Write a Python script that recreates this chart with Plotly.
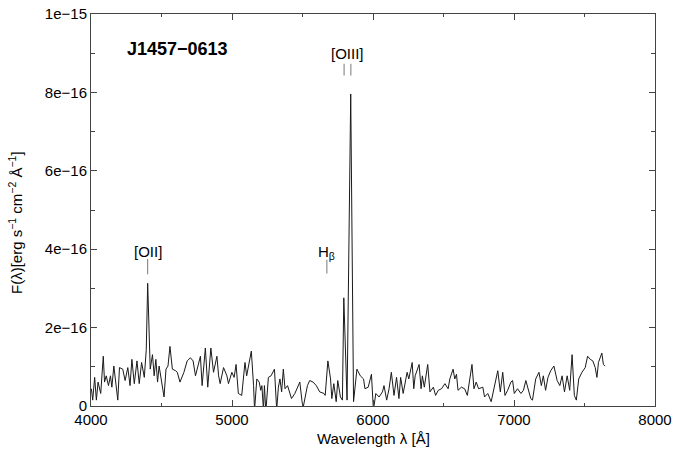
import plotly.graph_objects as go
import numpy as np

# spectrum: wavelength [A] and flux [1e-17 erg/s/cm2/A]
wave = [
    4003, 4012, 4026, 4038, 4050, 4069, 4087, 4096, 4108, 4124, 4138, 4148, 4162, 4171, 4190,
    4202, 4225, 4242, 4261, 4277, 4290, 4307, 4326, 4342, 4359, 4378, 4392, 4402, 4420, 4436,
    4448, 4460, 4472, 4483, 4499, 4518, 4532, 4546, 4560, 4577, 4600, 4612, 4631, 4659, 4682,
    4705, 4724, 4741, 4776, 4788, 4811, 4828, 4850, 4869, 4893, 4905, 4916, 4940, 4964, 4975,
    4999, 5015, 5029, 5045, 5069, 5092, 5104, 5137, 5153, 5160, 5176, 5193, 5204, 5212, 5223,
    5230, 5240, 5258, 5277, 5301, 5317, 5329, 5340, 5352, 5364, 5376, 5394, 5422, 5446, 5481,
    5497, 5504, 5535, 5551, 5575, 5598, 5622, 5652, 5661, 5680, 5699, 5708, 5722, 5739, 5750,
    5769, 5783, 5793, 5816, 5842, 5862, 5886, 5910, 5933, 5943, 5966, 5989, 6003, 6020, 6043,
    6067, 6078, 6097, 6114, 6130, 6149, 6167, 6184, 6196, 6214, 6242, 6254, 6278, 6289, 6299,
    6327, 6341, 6350, 6364, 6388, 6404, 6416, 6428, 6444, 6463, 6486, 6510, 6533, 6545, 6568,
    6580, 6592, 6603, 6627, 6650, 6669, 6685, 6702, 6716, 6732, 6749, 6779, 6791, 6814, 6838,
    6861, 6885, 6903, 6920, 6936, 6955, 6978, 6990, 7002, 7025, 7049, 7067, 7084, 7100, 7119,
    7131, 7154, 7177, 7194, 7208, 7224, 7241, 7260, 7283, 7306, 7325, 7341, 7358, 7377, 7395,
    7412, 7428, 7442, 7459, 7482, 7505, 7522, 7541, 7559, 7576, 7588, 7599, 7623, 7634, 7646,
]
flux = [
    4.4, 1.5, 7.3, 1.5, 6.1, 3.2, 12.7, 6.1, 7.7, 5.2, 7.7, 4.8, 10.2, 7.3, 1.5,
    9.8, 9.4, 6.5, 9.8, 5.2, 11.9, 5.7, 11.5, 5.7, 11.1, 7.3, 14.4, 31.3, 9.4, 13.1,
    7.7, 11.9, 6.1, 10.2, 6.9, 2.3, 9.4, 10.2, 15.2, 9.4, 9.0, 8.6, 6.1, 8.6, 11.5,
    12.3, 11.5, 7.7, 12.7, 5.2, 14.8, 4.8, 14.8, 8.6, 12.7, 7.7, 5.7, 9.8, 7.7, 5.7,
    8.6, 7.3, 10.6, 3.2, 2.7, 11.1, 7.7, 14.0, 5.2, -1.0, 6.9, 6.1, 4.0, 5.2, -1.0,
    5.2, -1.5, 7.3, 7.7, 9.4, -1.0, 4.8, 6.9, 3.6, 9.4, 4.4, 5.2, 1.9, 3.2, 6.1,
    1.1, -0.5, 5.2, 6.5, 6.1, 5.2, 3.6, 3.2, 2.7, 11.5, 6.9, 1.9, 5.7, 1.1, 6.5,
    2.3, 1.5, 27.6, 1.5, 79.6, 1.1, 9.4, 7.7, 6.9, 4.4, 4.8, 8.1, -1.0, 3.2, 2.3,
    3.6, 5.2, 1.5, 4.4, 8.6, 2.7, 7.3, 1.9, 7.3, 3.2, 8.6, 6.9, 11.1, 4.4, 7.7,
    10.6, 4.4, 7.7, 4.8, 10.6, 3.6, 4.4, 4.8, 2.7, 4.0, 4.4, 5.7, 4.4, 6.9, 9.4,
    6.9, 8.1, 4.0, 4.8, 4.4, 2.7, 6.1, 10.6, 4.4, 6.1, 4.4, 4.8, 2.3, 3.2, 1.1,
    5.2, 9.0, 3.6, 8.6, 2.7, 4.0, 6.1, 6.5, 3.2, 4.4, 3.2, 4.0, 6.5, 4.4, 1.9,
    1.5, 6.9, 8.6, 5.2, 7.7, 4.0, 7.3, 9.0, 10.2, 6.5, 5.2, 7.7, 3.6, 7.7, 4.0,
    13.1, 2.7, 1.5, 6.9, 8.6, 9.8, 12.7, 11.9, 11.5, 9.8, 7.3, 11.1, 13.5, 10.6, 10.2,
]

# line identifications: label, label x, label y, marker wavelengths, marker bottom/top (1e-17)
line_labels = ["[OII]", "H<sub>β</sub>", "[OIII]"]
label_wave = [4402, 5673, 5818]
label_flux = [39.5, 39.2, 90.0]
mark_wave = [4402, 5673, 5795, 5843]
mark_lo = [33.6, 33.8, 84.3, 84.3]
mark_hi = [37.5, 37.3, 87.3, 87.3]

x_ticks = [4000, 5000, 6000, 7000, 8000]
y_ticks = [0, 2e-16, 4e-16, 6e-16, 8e-16, 1e-15]
y_ticktext = ["0", "2e\u221216", "4e\u221216", "6e\u221216", "8e\u221216", "1e\u221215"]
y_minor = [1e-16, 3e-16, 5e-16, 7e-16, 9e-16]

scale = 1e-17
font = "Liberation Sans, Arial, sans-serif"
axcol = "#444444"

fig = go.Figure()

# spectrum
fig.add_trace(
    go.Scatter(
        x=wave,
        y=np.array(flux) * scale,
        mode="lines",
        line=dict(color="#1a1a1a", width=1),
        showlegend=False,
    )
)

# line markers
for w, lo, hi in zip(mark_wave, mark_lo, mark_hi):
    fig.add_trace(
        go.Scatter(
            x=[w, w],
            y=[lo * scale, hi * scale],
            mode="lines",
            line=dict(color="#777777", width=1),
            showlegend=False,
        )
    )

for txt, w, f in zip(line_labels, label_wave, label_flux):
    fig.add_annotation(
        x=w, y=f * scale, xref="x", yref="y", text=txt, showarrow=False,
        font=dict(family=font, size=15, color="black"),
        xanchor="center", yanchor="middle",
    )

# object name
fig.add_annotation(
    x=0.0598, y=0.910, xref="paper", yref="paper", text="<b>J1457\u22120613</b>",
    showarrow=False, xanchor="left", yanchor="middle",
    font=dict(family=font, size=18, color="black"),
)

# axis titles
fig.add_annotation(
    x=0.5, y=-0.083, xref="paper", yref="paper", text="Wavelength λ [Å]",
    showarrow=False, xanchor="center", yanchor="middle",
    font=dict(family=font, size=15, color="black"),
)
fig.add_annotation(
    x=-0.135, y=0.469, xref="paper", yref="paper",
    text="F(λ)[erg s<sup>\u22121</sup> cm<sup>\u22122</sup> Å<sup>\u22121</sup>]",
    showarrow=False, textangle=-90, xanchor="center", yanchor="middle",
    font=dict(family=font, size=15, color="black"),
)

fig.update_xaxes(
    range=[4000, 8000], tickvals=x_ticks, ticks="inside", ticklen=6, tickcolor=axcol,
    showline=True, linecolor=axcol, linewidth=1, mirror="ticks",
    showgrid=False, zeroline=False, ticklabeloverflow="allow",
    minor=dict(dtick=500, tick0=4000, ticks="inside", ticklen=3, tickcolor=axcol),
    tickfont=dict(family=font, size=15, color="black"),
)
fig.update_yaxes(
    range=[0, 1e-15], tickvals=y_ticks, ticktext=y_ticktext, ticks="inside", ticklen=6,
    tickcolor=axcol, showline=True, linecolor=axcol, linewidth=1, mirror="ticks",
    showgrid=False, zeroline=False, ticklabeloverflow="allow",
    minor=dict(tickmode="array", tickvals=y_minor, ticks="inside", ticklen=4, tickcolor=axcol),
    tickfont=dict(family=font, size=15, color="black"),
)

fig.update_layout(
    width=677,
    height=449,
    margin=dict(l=91, r=15, t=5, b=43),
    paper_bgcolor="white",
    plot_bgcolor="white",
    showlegend=False,
)

# drop the page's default body margin so the figure sits at the window corner
fig.write_html(
    "out.html",
    config={"displayModeBar": False},
    post_script="document.body.style.margin='0';",
)
